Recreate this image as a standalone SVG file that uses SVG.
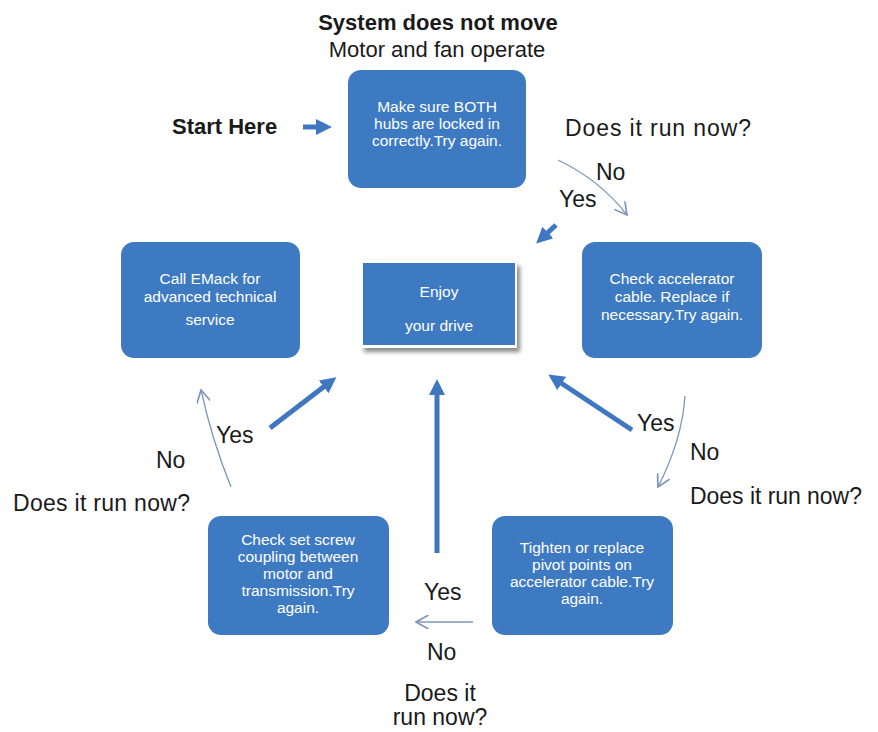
<svg xmlns="http://www.w3.org/2000/svg" width="878" height="732" viewBox="0 0 878 732">
<defs>
<style>
.node{fill:#3D7AC2;}
.nt{font-family:"Liberation Sans",Arial,sans-serif;font-size:15.5px;fill:#ffffff;text-anchor:middle;}
.lbl{font-family:"Liberation Sans",Arial,sans-serif;font-size:23px;fill:#1a1a1a;}
.hd{font-family:"Liberation Sans",Arial,sans-serif;font-size:22px;fill:#1a1a1a;}
.thick{stroke:#3F78C0;stroke-width:5;fill:none;}
.thin{stroke:#7C97B9;stroke-width:1.3;fill:none;}
</style>
<marker id="headThick" viewBox="0 0 10 10" refX="5" refY="5" markerWidth="16" markerHeight="16" markerUnits="userSpaceOnUse" orient="auto">
<path d="M0,0 L10,5 L0,10 z" fill="#3F78C0"/>
</marker>
<marker id="headThin" viewBox="0 0 10 10" refX="9" refY="5" markerWidth="14" markerHeight="14" markerUnits="userSpaceOnUse" orient="auto">
<path d="M0,0 L9,5 L0,10" fill="none" stroke="#7C97B9" stroke-width="1.2"/>
</marker>
<filter id="sh" x="-10%" y="-10%" width="130%" height="130%">
<feGaussianBlur stdDeviation="2"/>
</filter>
</defs>
<rect width="878" height="732" fill="#ffffff"/>

<g id="title">
<text x="438" y="30" class="hd" font-weight="bold" text-anchor="middle">System does not move</text>
<text x="437" y="57" class="hd" text-anchor="middle">Motor and fan operate</text>
</g>
<g id="start">
<text x="172" y="134" class="hd" font-weight="bold">Start Here</text>
</g>

<g id="n-hubs">
<rect x="348" y="70" width="178" height="118" rx="13" class="node"/>
<text class="nt"><tspan x="437" y="112">Make sure BOTH</tspan><tspan x="437" y="129">hubs are locked in</tspan><tspan x="437" y="146">correctly.Try again.</tspan></text>
</g>

<g id="n-enjoy">
<rect x="364" y="266" width="156" height="86" fill="#8a8a8a" filter="url(#sh)"/>
<rect x="360" y="261" width="157" height="87" fill="#ffffff"/>
<rect x="363" y="263" width="152" height="82" class="node"/>
<text class="nt"><tspan x="439" y="297">Enjoy</tspan><tspan x="439" y="331">your drive</tspan></text>
</g>

<g id="n-emack">
<rect x="121" y="242" width="179" height="116" rx="13" class="node"/>
<text class="nt"><tspan x="210" y="284">Call EMack for</tspan><tspan x="210" y="302">advanced technical</tspan><tspan x="210" y="325">service</tspan></text>
</g>

<g id="n-accel">
<rect x="582" y="242" width="180" height="116" rx="13" class="node"/>
<text class="nt"><tspan x="672" y="284">Check accelerator</tspan><tspan x="672" y="302">cable. Replace if</tspan><tspan x="672" y="320">necessary.Try again.</tspan></text>
</g>

<g id="n-screw">
<rect x="208" y="516" width="181" height="119" rx="13" class="node"/>
<text class="nt"><tspan x="298" y="545">Check set screw</tspan><tspan x="298" y="562">coupling between</tspan><tspan x="298" y="579">motor and</tspan><tspan x="298" y="596">transmission.Try</tspan><tspan x="298" y="613">again.</tspan></text>
</g>

<g id="n-pivot">
<rect x="492" y="516" width="181" height="119" rx="13" class="node"/>
<text class="nt"><tspan x="582" y="553">Tighten or replace</tspan><tspan x="582" y="570">pivot points on</tspan><tspan x="582" y="587">accelerator cable.Try</tspan><tspan x="582" y="604">again.</tspan></text>
</g>

<g id="labels">
<text x="565" y="136" class="lbl" textLength="186">Does it run now?</text>
<text x="596" y="180" class="lbl">No</text>
<text x="559" y="207" class="lbl">Yes</text>
<text x="637" y="431" class="lbl">Yes</text>
<text x="690" y="460" class="lbl">No</text>
<text x="690" y="504" class="lbl" textLength="172">Does it run now?</text>
<text x="216" y="443" class="lbl">Yes</text>
<text x="156" y="468" class="lbl">No</text>
<text x="13" y="511" class="lbl" textLength="177">Does it run now?</text>
<text x="424" y="600" class="lbl">Yes</text>
<text x="427" y="660" class="lbl">No</text>
<text x="440" y="701" class="lbl" text-anchor="middle">Does it</text>
<text x="440" y="725" class="lbl" text-anchor="middle">run now?</text>
</g>

<g id="connectors">
<line x1="303" y1="127" x2="324" y2="127" class="thick" marker-end="url(#headThick)"/>
<path d="M558,160 Q600,180 627,215" class="thin" marker-end="url(#headThin)"/>
<line x1="556" y1="225" x2="542" y2="238" class="thick" marker-end="url(#headThick)"/>
<path d="M685,396 Q682,440 658,487" class="thin" marker-end="url(#headThin)"/>
<line x1="632" y1="430" x2="555" y2="379" class="thick" marker-end="url(#headThick)"/>
<line x1="437" y1="553" x2="437" y2="387" class="thick" marker-end="url(#headThick)"/>
<line x1="473" y1="622" x2="416" y2="622" class="thin" marker-end="url(#headThin)"/>
<line x1="270" y1="428" x2="330" y2="382" class="thick" marker-end="url(#headThick)"/>
<path d="M231,487 Q212,440 201,390" class="thin" marker-end="url(#headThin)"/>
</g>
</svg>
